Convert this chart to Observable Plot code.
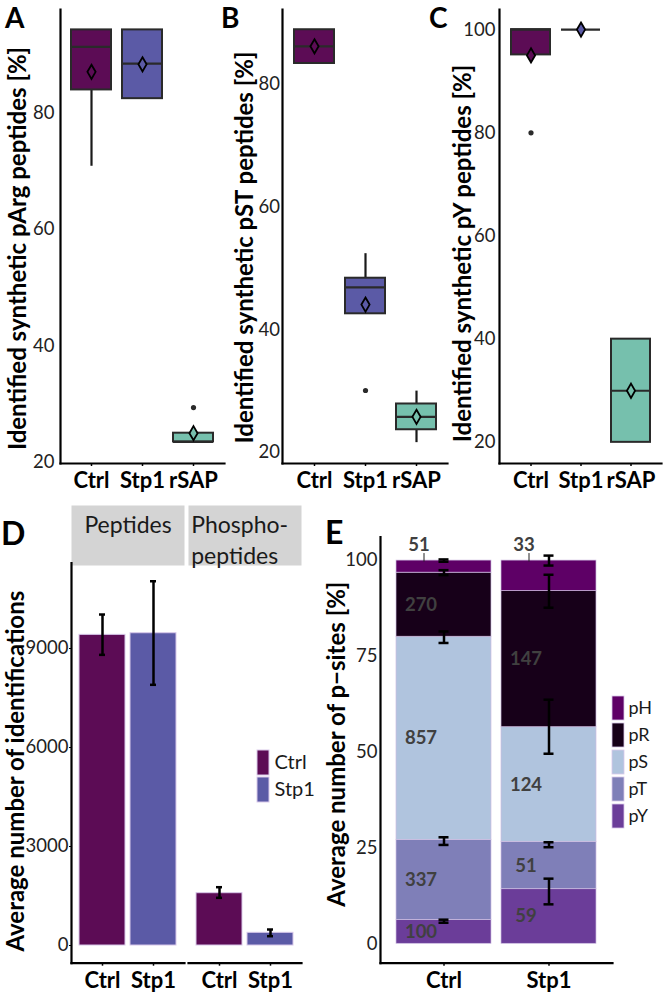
<!DOCTYPE html>
<html><head><meta charset="utf-8">
<script src="https://cdn.jsdelivr.net/npm/d3@7"></script>
<script src="https://cdn.jsdelivr.net/npm/@observablehq/plot@0.6"></script>
<style>
body{margin:0;background:#fff;}
#fig{position:relative;width:664px;height:995px;overflow:hidden;font-family:Lato,sans-serif;background:#fff;}
.p{position:absolute;}
.letter{position:absolute;font-weight:bold;line-height:1;color:#000;font-family:Lato,sans-serif;}
</style></head><body><div id="fig"></div>
<script>
// ---------- data ----------
const boxCats = ["Ctrl", "Stp1", "rSAP"];
const boxColors = ["#5c0c55", "#5b5aa6", "#76c0ad"];
const ticksAB = [20, 40, 60, 80];
const ticksC = [20, 40, 60, 80, 100];

// A: pArg
const argQ1 = [83.9, 82.4, 23.5], argMed = [91.3, 88.4, 23.5], argQ3 = [94.2, 94.2, 25.0];
const argLo = [70.8, 82.4, 23.5], argHi = [94.2, 94.2, 25.0], argMean = [87.0, 88.3, 25.0];
const argOutCat = ["rSAP"], argOutVal = [29.4];
// B: pST
const stQ1 = [83.4, 42.6, 23.7], stMed = [86.2, 46.9, 25.8], stQ3 = [88.9, 48.4, 27.9];
const stLo = [83.4, 42.6, 21.6], stHi = [88.9, 52.4, 30.0], stMean = [86.2, 44.1, 25.8];
const stOutCat = ["Stp1"], stOutVal = [30.1];
// C: pY
const pyQ1 = [95.1, 100, 20], pyMed = [100, 100, 30], pyQ3 = [100, 100, 40];
const pyLo = [95.1, 100, 20], pyHi = [100, 100, 40], pyMean = [95, 100, 30];
const pyOutCat = ["Ctrl"], pyOutVal = [80];

// D
const dGroups = ["Ctrl", "Stp1"];
const dTicks = [0, 3000, 6000, 9000];
const pepValues = [9414, 9463], pepLo = [8808, 7900], pepHi = [10030, 11038];
const phosValues = [1585, 385], phosLo = [1445, 282], phosHi = [1767, 485];

// E
const eSamples = ["Ctrl", "Stp1"];
const eTicks = [0, 25, 50, 75, 100];
const legendSites = ["pH", "pR", "pS", "pT", "pY"];
const siteColors = ["#5e0066", "#170019", "#b0c4de", "#7f7fb8", "#6b3d99"];
const stackSites = ["pY", "pT", "pS", "pR", "pH"];
const ctrlCounts = [100, 337, 857, 270, 51];
const stp1Counts = [59, 51, 124, 147, 33];
const ctrlErrLo = [5.5, 25.8, 78.5, 96.2, 99.7], ctrlErrHi = [6.3, 27.8, 81.5, 97.5, 100.3];
const stp1ErrLo = [10.3, 25.2, 49.6, 87.7, 98.7], stp1ErrHi = [17.0, 26.5, 63.7, 96.3, 101.3];

// ---------- helpers ----------
const fig = document.getElementById("fig");
function place(node, left, top, w) {
  const d = document.createElement("div");
  d.className = "p"; d.style.left = left + "px"; d.style.top = top + "px";
  if (w) d.style.width = w + "px";
  d.appendChild(node); fig.appendChild(d);
}
function letter(t, left, top, size) {
  const d = document.createElement("div");
  d.className = "letter"; d.textContent = t;
  d.style.left = left + "px"; d.style.top = top + "px"; d.style.fontSize = size + "px";
  fig.appendChild(d);
}
const baseStyle = {background: "transparent", overflow: "visible", fontFamily: "Lato, sans-serif", color: "#000"};
const fmt = d => String(d);
const TICK_FS = 18.5, XLAB_FS = 22, TITLE_FS = 24;

function boxPanel(o) {
  const rows = boxCats.map((g, i) => ({g, q1: o.q1[i], med: o.med[i], q3: o.q3[i], lo: o.lo[i], hi: o.hi[i], mean: o.mean[i]}));
  const outs = o.outCat.map((g, i) => ({g, v: o.outVal[i]}));
  return Plot.plot({
    width: o.width, height: 495,
    marginLeft: o.marginLeft, marginRight: o.marginRight, marginTop: 9, marginBottom: 32,
    style: baseStyle,
    x: {type: "band", domain: boxCats, paddingInner: 0.22, paddingOuter: 0.21, label: null, axis: null},
    y: {domain: o.yDomain, label: null, axis: null},
    color: {domain: boxCats, range: boxColors},
    marks: [
      Plot.ruleX(rows, {x: "g", y1: "lo", y2: "q1", stroke: "#1a1a1a", strokeWidth: 2.2}),
      Plot.ruleX(rows, {x: "g", y1: "q3", y2: "hi", stroke: "#1a1a1a", strokeWidth: 2.2}),
      Plot.barY(rows, {x: "g", y1: "q1", y2: "q3", fill: "g", stroke: "#2a2a2a", strokeWidth: 2}),
      Plot.tickY(rows, {x: "g", y: "med", stroke: "#2a2a2a", strokeWidth: 2.2}),
      Plot.dot(outs, {x: "g", y: "v", r: 2.6, fill: "#2a2a2a", stroke: null}),
      Plot.dot(rows, {x: "g", y: "mean", symbol: "diamond", r: 4.3, fill: "g", stroke: "#000", strokeWidth: 1.8}),
      Plot.axisY({ticks: o.ticks, tickFormat: fmt, tickSize: 0, tickPadding: o.tickPad, fontSize: TICK_FS, fill: "#222", label: null}),
      Plot.axisX({tickSize: 3, tickPadding: 6, fontSize: XLAB_FS, fontWeight: "bold", label: null, strokeWidth: 1.5}),
      Plot.frame({anchor: "left", strokeWidth: 2.2}),
      Plot.frame({anchor: "bottom", strokeWidth: 2.2}),
      Plot.text([o.title], {frameAnchor: "left", textAnchor: "middle", rotate: -90, dx: o.titleDx, dy: o.titleDy, fontSize: TITLE_FS, fontWeight: "bold"})
    ]
  });
}

// ---------- A, B, C ----------
place(boxPanel({q1: argQ1, med: argMed, q3: argQ3, lo: argLo, hi: argHi, mean: argMean, outCat: argOutCat, outVal: argOutVal,
  width: 225, marginLeft: 60, marginRight: 1, yDomain: [19.8, 97.7], ticks: ticksAB, tickPad: 6,
  title: "Identified synthetic pArg peptides [%]", titleDx: -42, titleDy: 12}), 0, 0, 225);
place(boxPanel({q1: stQ1, med: stMed, q3: stQ3, lo: stLo, hi: stHi, mean: stMean, outCat: stOutCat, outVal: stOutVal,
  width: 225, marginLeft: 60, marginRight: 0, yDomain: [18.2, 92.2], ticks: ticksAB, tickPad: 2.5,
  title: "Identified synthetic pST peptides [%]", titleDx: -37, titleDy: 11}), 222, 0, 225);
place(boxPanel({q1: pyQ1, med: pyMed, q3: pyQ3, lo: pyLo, hi: pyHi, mean: pyMean, outCat: pyOutCat, outVal: pyOutVal,
  width: 224, marginLeft: 59, marginRight: 3, yDomain: [15.9, 103.9], ticks: ticksC, tickPad: 4,
  title: "Identified synthetic pY peptides [%]", titleDx: -36, titleDy: 17}), 440, 0, 224);

// ---------- D ----------
const dColors = boxColors.slice(0, 2);
function dPanel(o) {
  const rows = dGroups.map((g, i) => ({g, v: o.values[i], lo: o.lo[i], hi: o.hi[i]}));
  return Plot.plot({
    width: o.width, height: 505, marginLeft: o.marginLeft, marginRight: 0, marginTop: 72.7, marginBottom: 32.3,
    style: baseStyle,
    x: {type: "band", domain: dGroups, paddingInner: 0.1, paddingOuter: 0.15, label: null, axis: null},
    y: {domain: [-536, 11585], label: null, axis: null},
    color: {domain: dGroups, range: dColors},
    marks: [
      Plot.frame({fill: "#d4d4d4", stroke: null, insetTop: -57.7, insetBottom: 397.7}),
      ...o.strip,
      Plot.barY(rows, {x: "g", y: "v", fill: "g", stroke: "#d9c9ea", strokeWidth: 1}),
      Plot.ruleX(rows, {x: "g", y1: "lo", y2: "hi", stroke: "#000", strokeWidth: 2.5}),
      Plot.tickY(rows, {x: "g", y: "lo", stroke: "#000", strokeWidth: 2.5, insetLeft: 20, insetRight: 20}),
      Plot.tickY(rows, {x: "g", y: "hi", stroke: "#000", strokeWidth: 2.5, insetLeft: 20, insetRight: 20}),
      ...(o.yAxis ? [
        Plot.axisY({ticks: dTicks, tickFormat: fmt, tickSize: 2, tickPadding: 1, fontSize: TICK_FS, fill: "#222", label: null}),
        Plot.frame({anchor: "left", strokeWidth: 2.2}),
        Plot.text(["Average number of identifications"], {frameAnchor: "left", textAnchor: "middle", rotate: -90, dx: -55, dy: 8, fontSize: TITLE_FS, fontWeight: "bold"})
      ] : []),
      Plot.axisX({tickSize: 3, tickPadding: 6, fontSize: XLAB_FS, fontWeight: "bold", label: null, strokeWidth: 1.5}),
      Plot.frame({anchor: "bottom", strokeWidth: 2.2})
    ]
  });
}
place(dPanel({values: pepValues, lo: pepLo, hi: pepHi, width: 184, marginLeft: 71, yAxis: true,
  strip: [Plot.text(["Peptides"], {frameAnchor: "top", textAnchor: "middle", dy: -46.7, fontSize: 23, fill: "#1a1a1a"})]}), 0, 490, 184);
place(dPanel({values: phosValues, lo: phosLo, hi: phosHi, width: 113, marginLeft: 0, yAxis: false,
  strip: [
    Plot.text(["Phospho-"], {frameAnchor: "top-left", textAnchor: "start", dx: 2.7, dy: -46.7, fontSize: 23, fill: "#1a1a1a"}),
    Plot.text(["peptides"], {frameAnchor: "top-left", textAnchor: "start", dx: 2.7, dy: -16, fontSize: 23, fill: "#1a1a1a"})
  ]}), 188, 490, 113);

// D legend
place(Plot.plot({
  width: 72, height: 53, marginLeft: 0, marginRight: 60, marginTop: 0, marginBottom: 0,
  style: baseStyle,
  y: {type: "band", domain: dGroups, paddingInner: 0.06, paddingOuter: 0, axis: null},
  color: {domain: dGroups, range: dColors},
  marks: [
    Plot.cell(dGroups, {y: d => d, fill: d => d, stroke: "#d9c9ea", strokeWidth: 1}),
    Plot.text(dGroups, {y: d => d, text: d => d, frameAnchor: "right", textAnchor: "start", dx: 5, fontSize: 20, fill: "#1a1a1a"})
  ]
}), 256.5, 749.5, 72);

// ---------- E ----------
const eRows = [];
const eErr = [];
eSamples.forEach((s, si) => {
  const counts = si === 0 ? ctrlCounts : stp1Counts;
  const lo = si === 0 ? ctrlErrLo : stp1ErrLo;
  const hi = si === 0 ? ctrlErrHi : stp1ErrHi;
  const total = d3.sum(counts);
  stackSites.forEach((site, k) => {
    eRows.push({sample: s, site, count: counts[k], pct: counts[k] / total * 100, top: 100});
    eErr.push({sample: s, site, lo: lo[k], hi: hi[k]});
  });
});
const phRows = eRows.filter(d => d.site === "pH");

place(Plot.plot({
  width: 282, height: 505, marginLeft: 50, marginRight: 0, marginTop: 46.7, marginBottom: 32.3,
  style: baseStyle,
  x: {type: "band", domain: eSamples, paddingInner: 0.1, paddingOuter: 0.15, label: null, axis: null},
  y: {domain: [-5.06, 106.1], label: null, axis: null},
  color: {domain: legendSites, range: siteColors},
  marks: [
    Plot.barY(eRows, Plot.stackY({x: "sample", y: "pct", z: "site", fill: "site", stroke: "#cfbde2", strokeWidth: 0.7})),
    Plot.text(eRows, Plot.stackY({x: "sample", y: "pct", z: "site", text: "count", filter: d => d.site !== "pH",
      dx: -23, fontSize: 18.5, fontWeight: "bold", fill: "#404040"})),
    Plot.text(phRows, {x: "sample", y: "top", text: "count", dx: -25, dy: -15, fontSize: 18.5, fontWeight: "bold", fill: "#404040"}),
    Plot.ruleX(phRows, {x: "sample", y1: "top", y2: "top", insetTop: 1.5, insetBottom: 7, dx: -20, stroke: "#222", strokeWidth: 1}),
    Plot.ruleX(eErr, {x: "sample", y1: "lo", y2: "hi", stroke: "#000", strokeWidth: 2.5}),
    Plot.tickY(eErr, {x: "sample", y: "lo", stroke: "#000", strokeWidth: 2.5, insetLeft: 42.5, insetRight: 42.5}),
    Plot.tickY(eErr, {x: "sample", y: "hi", stroke: "#000", strokeWidth: 2.5, insetLeft: 42.5, insetRight: 42.5}),
    Plot.axisY({ticks: eTicks, tickFormat: fmt, tickSize: 0, tickPadding: 3, fontSize: TICK_FS, fill: "#222", label: null}),
    Plot.axisX({tickSize: 3, tickPadding: 6, fontSize: XLAB_FS, fontWeight: "bold", label: null, strokeWidth: 1.5}),
    Plot.frame({anchor: "left", strokeWidth: 2.2}),
    Plot.frame({anchor: "bottom", strokeWidth: 2.2}),
    Plot.text(["Average number of p\u2212sites [%]"], {frameAnchor: "left", textAnchor: "middle", rotate: -90, dx: -43, dy: -6, fontSize: TITLE_FS, fontWeight: "bold"})
  ]
}), 330, 490, 282);

// E legend
place(Plot.plot({
  width: 53, height: 133, marginLeft: 0, marginRight: 41, marginTop: 0, marginBottom: 0,
  style: baseStyle,
  y: {type: "band", domain: legendSites, paddingInner: 0.1, paddingOuter: 0, axis: null},
  color: {domain: legendSites, range: siteColors},
  marks: [
    Plot.cell(legendSites, {y: d => d, fill: d => d, stroke: "#d9c9ea", strokeWidth: 0.8}),
    Plot.text(legendSites, {y: d => d, text: d => d, frameAnchor: "right", textAnchor: "start", dx: 4, fontSize: 18, fill: "#1a1a1a"})
  ]
}), 611.5, 695.5, 53);

// ---------- panel letters ----------
letter("A", 5, 3, 28);
letter("B", 221, 3, 28);
letter("C", 429, 3, 28);
letter("D", 1, 516.5, 32);
letter("E", 325, 515.5, 32);
</script></body></html>
